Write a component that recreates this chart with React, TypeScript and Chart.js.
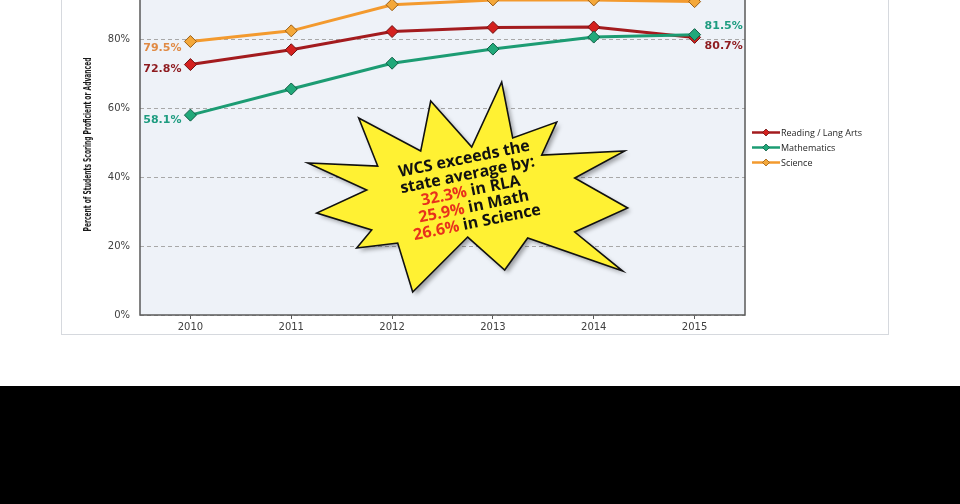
import React, { useEffect, useRef } from "react";
import { Chart, registerables } from "chart.js";

Chart.register(...registerables);

const years = ["2010", "2011", "2012", "2013", "2014", "2015"];
const readingValues = [72.8, 77.1, 82.4, 83.6, 83.7, 80.7];
const mathValues = [58.1, 65.7, 73.2, 77.3, 80.8, 81.5];
const scienceValues = [79.5, 82.6, 90.2, 91.6, 91.6, 91.1];
const seriesNames = ["Reading / Lang Arts", "Mathematics", "Science"];
const yMin = 0;
const yMax = 100;
const yStep = 20;
const yAxisTitle = "Percent of Students Scoring Proficient or Advanced";
const calloutLines: [string, string][] = [
  ["", "WCS exceeds the"],
  ["", "state average by:"],
  ["32.3%", " in RLA"],
  ["25.9%", " in Math"],
  ["26.6%", " in Science"],
];

const lineColors = ["#A31B1E", "#1C9C73", "#F39A2E"];
const pointFill = ["#D4211F", "#21A97A", "#F4A83A"];
const pointEdge = ["#6E1212", "#0F5E45", "#9A5E14"];
const labelColors = ["#8E1B1F", "#1E9C80", "#E08A44"];

// [seriesIndex, pointIndex, side]
const pointLabels: [number, number, "left" | "right", number][] = [
  [2, 0, "left", 6.5],
  [0, 0, "left", 5],
  [1, 0, "left", 5],
  [1, 5, "right", -8],
  [0, 5, "right", 8.5],
];

const STAR = [
  [35, -105], [46, -49], [90, -65], [75, -32], [158, -36], [108, -9],
  [161, 21], [108, 45], [156, 84], [61, 51], [38, 83], [1, 50],
  [-54, 105], [-69, 56], [-110, 61], [-95, 43], [-150, 26], [-100, 3],
  [-159, -24], [-89, -21], [-108, -69], [-46, -36], [-36, -86], [5, -40],
];

const decorPlugin = {
  id: "decor",
  beforeDraw(chart: any) {
    const { ctx, chartArea: a } = chart;
    ctx.save();
    ctx.fillStyle = "#EEF2F8";
    ctx.fillRect(a.left, a.top, a.right - a.left, a.bottom - a.top);
    ctx.restore();
  },
  beforeDatasetsDraw(chart: any) {
    const { ctx, chartArea: a } = chart;
    ctx.save();
    ctx.strokeStyle = "#5A5A5A";
    ctx.lineWidth = 1.5;
    ctx.strokeRect(a.left, a.top, a.right - a.left, a.bottom - a.top);
    ctx.restore();
  },
  afterDatasetsDraw(chart: any) {
    const { ctx, chartArea: a, scales } = chart;
    const datasets = chart.data.datasets;

    // point value labels
    ctx.save();
    ctx.font = "bold 11px 'DejaVu Sans'";
    ctx.textBaseline = "middle";
    pointLabels.forEach(([s, i, side, dy]) => {
      const el = chart.getDatasetMeta(s).data[i];
      const v = datasets[s].data[i] as number;
      ctx.fillStyle = labelColors[s];
      const txt = v.toFixed(1) + "%";
      if (side === "left") {
        ctx.textAlign = "right";
        ctx.fillText(txt, el.x - 9, el.y + dy);
      } else {
        ctx.textAlign = "left";
        ctx.fillText(txt, el.x + 10, el.y + dy);
      }
    });
    ctx.restore();

    // y axis title
    ctx.save();
    const cy = (a.top + a.bottom) / 2 + 1.5;
    ctx.translate(a.left - 52, cy);
    ctx.rotate(-Math.PI / 2);
    ctx.font = "bold 10px 'DejaVu Sans'";
    const tw = ctx.measureText(yAxisTitle).width;
    ctx.scale(174 / tw, 1);
    ctx.fillStyle = "#1A1A1A";
    ctx.textAlign = "center";
    ctx.textBaseline = "middle";
    ctx.fillText(yAxisTitle, 0, 0);
    ctx.restore();

    // legend
    ctx.save();
    const ly = (a.top + a.bottom) / 2 + 4.5;
    ctx.font = "9px 'Open Sans'";
    ctx.textBaseline = "middle";
    ctx.textAlign = "left";
    seriesNames.forEach((name, k) => {
      const y = ly + (k - 1) * 15;
      const x0 = a.right + 7;
      ctx.strokeStyle = lineColors[k];
      ctx.lineWidth = 2.5;
      ctx.beginPath();
      ctx.moveTo(x0, y);
      ctx.lineTo(x0 + 28, y);
      ctx.stroke();
      ctx.fillStyle = pointFill[k];
      ctx.strokeStyle = pointEdge[k];
      ctx.lineWidth = 0.8;
      ctx.beginPath();
      ctx.moveTo(x0 + 14, y - 3.5);
      ctx.lineTo(x0 + 17.5, y);
      ctx.lineTo(x0 + 14, y + 3.5);
      ctx.lineTo(x0 + 10.5, y);
      ctx.closePath();
      ctx.fill();
      ctx.stroke();
      ctx.fillStyle = "#262626";
      ctx.fillText(name, x0 + 29, y + 0.5);
    });
    ctx.restore();

    // starburst callout
    const xs = scales.x;
    const step = xs.getPixelForValue(1) - xs.getPixelForValue(0);
    const sx = xs.getPixelForValue(2) + 0.74 * step;
    const sy = scales.y.getPixelForValue(37.2);
    ctx.save();
    ctx.translate(sx, sy);
    ctx.beginPath();
    STAR.forEach(([px, py], k) => (k === 0 ? ctx.moveTo(px, py) : ctx.lineTo(px, py)));
    ctx.closePath();
    ctx.shadowColor = "rgba(0,0,0,0.35)";
    ctx.shadowBlur = 4;
    ctx.shadowOffsetX = 3;
    ctx.shadowOffsetY = 3;
    ctx.fillStyle = "#FFF133";
    ctx.fill();
    ctx.shadowColor = "transparent";
    ctx.strokeStyle = "#111";
    ctx.lineWidth = 1.6;
    ctx.lineJoin = "miter";
    ctx.stroke();

    ctx.translate(4, 4);
    ctx.rotate((-11.5 * Math.PI) / 180);
    ctx.font = "bold 16px 'Open Sans'";
    ctx.textBaseline = "middle";
    ctx.textAlign = "left";
    const lh = 16.2;
    calloutLines.forEach(([red, black], k) => {
      const y = (k - 2) * lh;
      const wr = red ? ctx.measureText(red).width : 0;
      const wb = ctx.measureText(black).width;
      let x = -(wr + wb) / 2;
      if (red) {
        ctx.fillStyle = "#E8311C";
        ctx.fillText(red, x, y);
        x += wr;
      }
      ctx.fillStyle = "#111";
      ctx.fillText(black, x, y);
    });
    ctx.restore();
  },
};

export default function App() {
  const ref = useRef<HTMLCanvasElement | null>(null);

  useEffect(() => {
    if (!ref.current) return;
    const mk = (k: number, data: number[], order: number) => ({
      label: seriesNames[k],
      data,
      borderColor: lineColors[k],
      borderWidth: 3,
      pointStyle: "rectRot" as const,
      pointRadius: 6,
      pointBackgroundColor: pointFill[k],
      pointBorderColor: pointEdge[k],
      pointBorderWidth: 1,
      tension: 0,
      order,
    });
    const chart = new Chart(ref.current, {
      type: "line",
      data: {
        labels: years,
        datasets: [mk(0, readingValues, 1), mk(1, mathValues, 0), mk(2, scienceValues, 2)],
      },
      options: {
        responsive: false,
        devicePixelRatio: 1,
        animation: false,
        layout: { padding: { left: 0, top: 20, right: 143, bottom: 0 } },
        plugins: { legend: { display: false }, tooltip: { enabled: false } },
        scales: {
          x: {
            type: "category",
            offset: true,
            afterFit: (s: any) => {
              s.height = 19;
            },
            grid: {
              drawOnChartArea: false,
              drawTicks: true,
              tickLength: 4,
              color: "#5A5A5A",
            },
            border: { display: false },
            ticks: {
              color: "#404040",
              padding: 2,
              font: { family: "'DejaVu Sans'", size: 10 },
            },
          },
          y: {
            min: yMin,
            max: yMax,
            afterFit: (s: any) => {
              s.width = 78;
            },
            grid: { color: "#A8A8A8", drawTicks: false },
            border: { display: false, dash: [4, 3] },
            ticks: {
              stepSize: yStep,
              padding: 10,
              color: "#404040",
              font: { family: "'DejaVu Sans'", size: 10 },
              callback: (v: any) => v + "%",
            },
          },
        },
      },
      plugins: [decorPlugin],
    });
    return () => chart.destroy();
  }, []);

  return (
    <div
      style={{
        position: "fixed",
        left: 0,
        top: 0,
        width: 960,
        height: 504,
        background: "#fff",
        overflow: "hidden",
      }}
    >
      <div
        style={{
          position: "absolute",
          left: 61,
          top: -50,
          width: 828,
          height: 385,
          boxSizing: "border-box",
          border: "1px solid #D6D9DE",
          background: "#fff",
        }}
      >
        <canvas ref={ref} width={826} height={383} style={{ display: "block" }} />
      </div>
      <div
        style={{
          position: "absolute",
          left: 0,
          top: 386,
          width: 960,
          height: 118,
          background: "#000",
        }}
      />
    </div>
  );
}
